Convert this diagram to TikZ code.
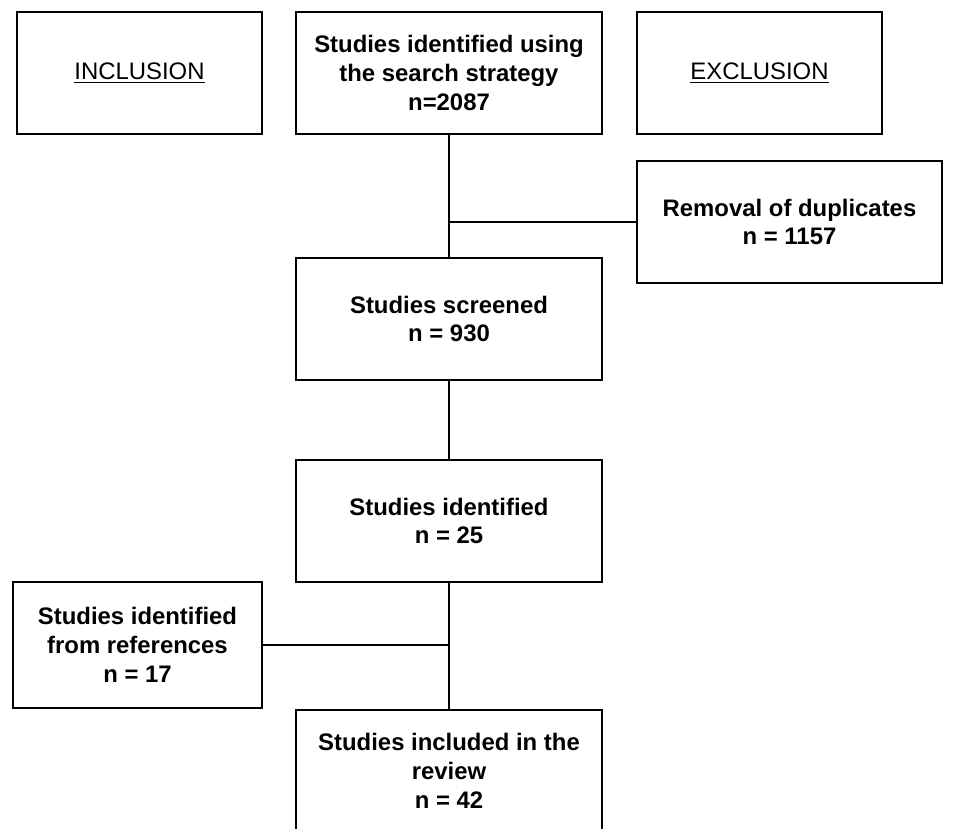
\documentclass[tikz,border=0pt]{standalone}
\usepackage{fontspec}
\setmainfont{Liberation Sans}
\usetikzlibrary{positioning}

\begin{document}
\begin{tikzpicture}[x=0.02cm,y=-0.02cm,line width=0.65pt,
	box/.style={draw,align=center,inner sep=2pt,minimum width=6.12cm,minimum height=2.44cm,
		font=\fontsize{13.6}{16.4}\selectfont\bfseries},
	side/.style={box,minimum width=4.9cm},
	head/.style={side,font=\fontsize{13.6}{16.4}\selectfont}]
		\useasboundingbox (0,0) rectangle (963,828);
		\node[head] (incl) at (139.5,73) {\underline{INCLUSION}};
		\node[box] (search) at (449,73) {Studies identified using\\the search strategy\\n=2087};
		\node[head] (excl) at (759.5,73) {\underline{EXCLUSION}};
		\node[box,minimum width=6.1cm] (dup) at (789.5,222) {Removal of duplicates\\n = 1157};
		\node[box] (screened) at (449,319) {Studies screened\\n = 930};
		\node[box] (ident) at (449,521) {Studies identified\\n = 25};
		\node[side,minimum width=4.98cm,minimum height=2.52cm] (refs) at (137.5,645) {Studies identified\\from references\\n = 17};
		\node[box] (incd) at (449,771) {Studies included in the\\review\\n = 42};
		\draw (search) -- (screened)
			(dup.west) -- (dup.west -| search)
			(screened) -- (ident)
			(ident) -- (incd)
			(refs.east) -- (refs.east -| ident);
\end{tikzpicture}
\end{document}
